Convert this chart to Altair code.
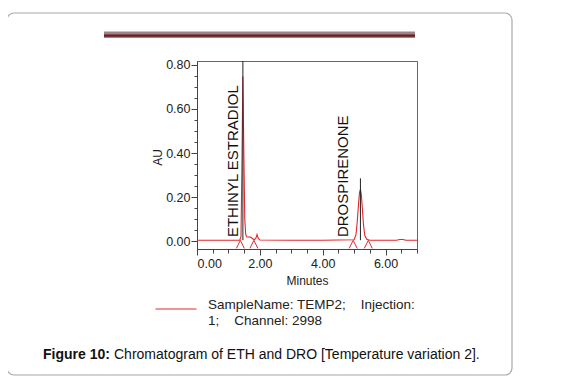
import altair as alt
import pandas as pd

# ---- chromatogram trace (minutes, AU) ----
times = [0.00, 1.36, 1.40, 1.43, 1.46, 1.49, 1.52, 1.55, 1.58, 1.70, 1.76, 1.82, 1.87,
         1.91, 1.95, 2.00, 3.00, 4.00, 5.00, 5.06, 5.10, 5.14, 5.17, 5.20, 5.23, 5.26,
         5.30, 5.34, 5.40, 5.50, 6.35, 6.45, 6.55, 6.65, 7.00]
au = [0.004, 0.004, 0.020, 0.350, 0.747, 0.400, 0.100, 0.030, 0.020, 0.018, 0.012, 0.006, 0.012,
      0.030, 0.012, 0.005, 0.004, 0.004, 0.006, 0.030, 0.090, 0.170, 0.220, 0.235, 0.210, 0.150,
      0.070, 0.025, 0.008, 0.004, 0.004, 0.007, 0.007, 0.004, 0.004]

# peak apex markers (black lines)
peak_times = [1.46, 5.20]
peak_base = [0.004, 0.004]
peak_tops = [0.90, 0.285]

# integration start/end marks
mark_times = [1.38, 1.81, 4.97, 5.45]
mark_au = [-0.015, -0.015, -0.015, -0.015]

# peak names
label_names = ["ETHINYL ESTRADIOL", "DROSPIRENONE"]
label_times = [1.15, 4.66]
label_au = [0.018, 0.018]

# axis ticks
x_major = [0, 2, 4, 6]
x_minor = [0, 0.5, 1, 1.5, 2, 2.5, 3, 3.5, 4, 4.5, 5, 5.5, 6, 6.5, 7]
y_major = [0, 0.2, 0.4, 0.6, 0.8]
y_minor = [0, 0.05, 0.1, 0.15, 0.2, 0.25, 0.3, 0.35, 0.4, 0.45, 0.5, 0.55, 0.6, 0.65, 0.7, 0.75, 0.8]

series_name = "SampleName: TEMP2;\u00a0\u00a0\u00a0\u00a0Injection:|1;\u00a0\u00a0\u00a0\u00a0Channel: 2998"
caption_bold = "Figure 10:"
caption_text = "Chromatogram of ETH and DRO [Temperature variation 2]."

FONT = "Liberation Sans"
RED = "#e4262c"

trace_df = pd.DataFrame({"t": times, "au": au, "series": [series_name] * len(times)})
peak_df = pd.DataFrame({"t": peak_times, "y0": peak_base, "y1": peak_tops})
mark_df = pd.DataFrame({"t": mark_times, "au": mark_au})
label_df = pd.DataFrame({"t": label_times, "au": label_au, "name": label_names})
one = pd.DataFrame({"a": [0]})

xs = alt.Scale(domain=[0, 7], nice=False, zero=False)
ys = alt.Scale(domain=[-0.036, 0.818], nice=False, zero=False)

x_axis_major = alt.Axis(values=x_major, format=".2f", tickSize=6, labelPadding=2,
                        labelFont=FONT, labelFontSize=12.5, labelColor="#222",
                        title="Minutes", titleFont=FONT, titleFontSize=12,
                        titleFontWeight="normal", titleColor="#222", titlePadding=6,
                        domainColor="#444", tickColor="#444", grid=False, orient="bottom")
y_axis_major = alt.Axis(values=y_major, format=".2f", tickSize=6, labelPadding=1,
                        labelFont=FONT, labelFontSize=12.5, labelColor="#222",
                        title="AU", titleFont=FONT, titleFontSize=12,
                        titleFontWeight="normal", titleColor="#222",
                        titleX=-40, titleY=96, titleAlign="center", titleBaseline="middle",
                        domainColor="#444", tickColor="#444", grid=False, orient="left")
x_axis_minor = alt.Axis(values=x_minor, tickSize=4, labels=False, domain=False, title=None,
                        tickColor="#444", grid=False, orient="bottom")
y_axis_minor = alt.Axis(values=y_minor, tickSize=3, labels=False, domain=False, title=None,
                        tickColor="#444", grid=False, orient="left")

trace = alt.Chart(trace_df).mark_line(strokeWidth=1.1, clip=True).encode(
    x=alt.X("t:Q", scale=xs, axis=x_axis_major),
    y=alt.Y("au:Q", scale=ys, axis=y_axis_major),
    color=alt.Color("series:N", scale=alt.Scale(range=[RED]),
                    legend=alt.Legend(title=None, orient="none", legendX=-42, legendY=227,
                                      symbolType="stroke", symbolSize=1681, symbolStrokeWidth=1,
                                      labelExpr="split(datum.label, '|')", labelFont=FONT,
                                      labelFontSize=13.5, labelColor="#222", labelLimit=500,
                                      labelBaseline="alphabetic",
                                      labelOffset=11, padding=0)),
    order="t:Q",
)

rules = alt.Chart(peak_df).mark_rule(color="#222", strokeWidth=1, clip=True).encode(
    x=alt.X("t:Q", scale=xs, axis=x_axis_minor),
    y=alt.Y("y0:Q", scale=ys, axis=y_axis_minor),
    y2="y1:Q",
)

marks = alt.Chart(mark_df).mark_point(shape="M-1,1L0,-1L1,1", size=64, filled=False,
                                       color=RED, strokeWidth=1, opacity=1).encode(
    x=alt.X("t:Q", scale=xs, axis=None),
    y=alt.Y("au:Q", scale=ys, axis=None),
)

labels = alt.Chart(label_df).mark_text(angle=270, align="left", baseline="middle",
                                       font=FONT, fontSize=15, color="#111").encode(
    x=alt.X("t:Q", scale=xs, axis=None),
    y=alt.Y("au:Q", scale=ys, axis=None),
    text="name:N",
)

card = alt.Chart(one).mark_rect(fill=None, stroke="#a8a8a8", strokeWidth=1.2,
                                cornerRadius=7).encode(
    x=alt.value(-190), x2=alt.value(315), y=alt.value(-48), y2=alt.value(314))
bar_light = alt.Chart(one).mark_rect(color="#9e8386").encode(
    x=alt.value(-93), x2=alt.value(218), y=alt.value(-29.5), y2=alt.value(-23))
bar_dark = alt.Chart(one).mark_rect(color="#6b1c22").encode(
    x=alt.value(-93), x2=alt.value(218), y=alt.value(-26.5), y2=alt.value(-24.2))

cap1 = alt.Chart(one).mark_text(text=caption_bold, font=FONT, fontSize=14, fontWeight="bold",
                                align="left", baseline="alphabetic", color="#111").encode(
    x=alt.value(-154), y=alt.value(298))
cap2 = alt.Chart(one).mark_text(text=caption_text, font=FONT, fontSize=14,
                                align="left", baseline="alphabetic", color="#111").encode(
    x=alt.value(-83), y=alt.value(298))

chart = alt.layer(card, bar_light, bar_dark, trace, rules, marks, labels, cap1, cap2).resolve_axis(
    x="independent", y="independent"
).properties(
    width=220, height=188,
    autosize=alt.AutoSizeParams(type="none"),
    padding={"left": 189, "top": 53, "right": 151, "bottom": 128},
    background="white",
).configure_view(stroke="#666", strokeWidth=1)

chart.save("out.html", embed_options={"renderer": "svg", "actions": False})
